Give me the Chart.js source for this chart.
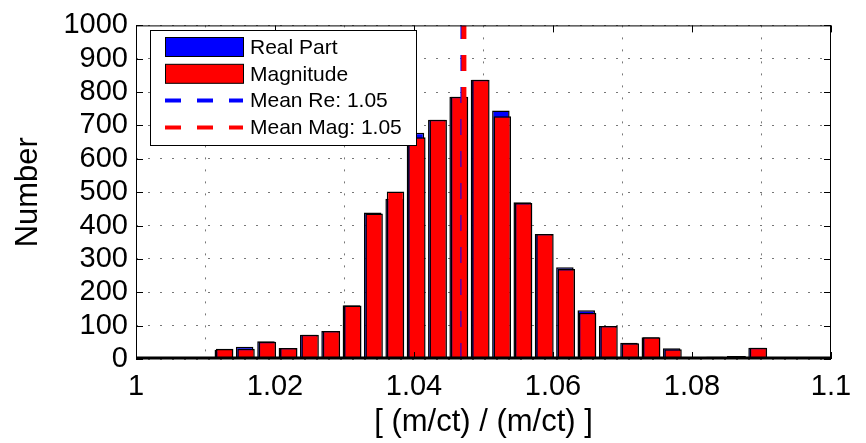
<!DOCTYPE html>
<html>
<head>
<meta charset="utf-8">
<script src="https://cdn.jsdelivr.net/npm/chart.js@4.4.1/dist/chart.umd.min.js"></script>
<style>
  html, body { margin: 0; padding: 0; background: #fff; }
  #wrap { width: 866px; height: 443px; }
</style>
</head>
<body>
<div id="wrap"><canvas id="chart1"></canvas></div>
<script>
// histogram bin centres and counts
const magBins = [1.01276, 1.01583, 1.01890, 1.02198, 1.02505, 1.02812, 1.03119, 1.03426, 1.03734,
                 1.04041, 1.04348, 1.04655, 1.04962, 1.05270, 1.05577, 1.05884, 1.06191, 1.06498,
                 1.06806, 1.07113, 1.07420, 1.07727, 1.08034, 1.08342, 1.08649, 1.08956];
const magCounts = [31, 31, 52, 33, 73, 84, 160, 436, 502, 665, 717, 786, 837, 728, 468, 375, 270,
                   139, 99, 47, 65, 29, 5, 7, 9, 34];

const reBins = [1.01256, 1.01563, 1.01870, 1.02178, 1.02485, 1.02792, 1.03099, 1.03406, 1.03714,
                1.04021, 1.04328, 1.04635, 1.04942, 1.05250, 1.05557, 1.05864, 1.06171, 1.06478,
                1.06786, 1.07093, 1.07400, 1.07707, 1.08014, 1.08322, 1.08629, 1.08936];
const reCounts = [28, 37, 53, 33, 73, 84, 161, 439, 480, 678, 717, 786, 837, 745, 470, 375, 275,
                  146, 99, 49, 65, 32, 5, 7, 9, 34];

const meanRe = 1.04704;
const meanMag = 1.04718;
const meanSpan = [0, 1000];

const xTicks = [1, 1.02, 1.04, 1.06, 1.08, 1.1];
const yTicks = [0, 100, 200, 300, 400, 500, 600, 700, 800, 900, 1000];

const labelFont = "'Liberation Sans', Arial, sans-serif";

// MATLAB style box, inward ticks and legend
const matlabFrame = {
    id: 'matlabFrame',
    afterDatasetsDraw(chart) {
        const { ctx, chartArea: a, scales } = chart;
        ctx.save();
        ctx.strokeStyle = '#000';
        ctx.lineWidth = 1;
        ctx.strokeRect(a.left + 0.5, a.top + 0.5, a.right - a.left - 1, a.bottom - a.top - 1);

        ctx.beginPath();
        scales.x.ticks.forEach(t => {
            const px = Math.round(scales.x.getPixelForValue(t.value)) + 0.5;
            ctx.moveTo(px, a.bottom); ctx.lineTo(px, a.bottom - 7);
            ctx.moveTo(px, a.top); ctx.lineTo(px, a.top + 7);
        });
        scales.y.ticks.forEach(t => {
            const py = Math.round(scales.y.getPixelForValue(t.value)) + 0.5;
            ctx.moveTo(a.left, py); ctx.lineTo(a.left + 7, py);
            ctx.moveTo(a.right, py); ctx.lineTo(a.right - 7, py);
        });
        ctx.stroke();

        // heavy baseline (empty bins)
        ctx.lineWidth = 3;
        ctx.beginPath();
        ctx.moveTo(a.left, a.bottom - 1);
        ctx.lineTo(a.right, a.bottom - 1);
        ctx.stroke();
        ctx.restore();
    },
    afterDraw(chart) {
        const ctx = chart.ctx;
        const box = { x: 150.5, y: 30.5, w: 266, h: 115 };
        ctx.save();
        ctx.fillStyle = '#fff';
        ctx.fillRect(box.x, box.y, box.w, box.h);
        ctx.strokeStyle = '#000';
        ctx.lineWidth = 1;
        ctx.strokeRect(box.x, box.y, box.w, box.h);

        ctx.font = '21px ' + labelFont;
        ctx.textBaseline = 'middle';
        chart.data.datasets.forEach((ds, i) => {
            const cy = 47 + i * 26.8;
            if (ds.type === 'line') {
                ctx.setLineDash(ds.borderDash);
                ctx.strokeStyle = ds.borderColor;
                ctx.lineWidth = 4;
                ctx.beginPath();
                ctx.moveTo(165, cy);
                ctx.lineTo(243, cy);
                ctx.stroke();
                ctx.setLineDash([]);
            } else {
                ctx.fillStyle = ds.backgroundColor;
                ctx.fillRect(165, cy - 9.5, 78, 19);
                ctx.strokeStyle = '#000';
                ctx.lineWidth = 1;
                ctx.strokeRect(165.5, cy - 9.5, 78, 19);
            }
            ctx.fillStyle = '#000';
            ctx.fillText(ds.label, 250, cy + 1);
        });
        ctx.restore();
    }
};

new Chart(document.getElementById('chart1'), {
    type: 'bar',
    data: {
        datasets: [
            {
                label: 'Real Part',
                xAxisID: 'xRe',
                data: reBins.map((x, i) => ({ x: x, y: reCounts[i] })),
                backgroundColor: '#0000ff',
                borderColor: '#000',
                borderWidth: 1.5,
                borderSkipped: false,
                grouped: false,
                barPercentage: 0.82,
                categoryPercentage: 1,
                order: 4
            },
            {
                label: 'Magnitude',
                xAxisID: 'x',
                data: magBins.map((x, i) => ({ x: x, y: magCounts[i] })),
                backgroundColor: '#ff0000',
                borderColor: '#000',
                borderWidth: 1.5,
                borderSkipped: false,
                grouped: false,
                barPercentage: 0.82,
                categoryPercentage: 1,
                order: 3
            },
            {
                type: 'line',
                label: 'Mean Re: 1.05',
                xAxisID: 'x',
                data: meanSpan.map(y => ({ x: meanRe, y: y })),
                borderColor: '#0000ff',
                borderWidth: 5,
                borderDash: [16, 16],
                pointRadius: 0,
                fill: false,
                order: 2
            },
            {
                type: 'line',
                label: 'Mean Mag: 1.05',
                xAxisID: 'x',
                data: meanSpan.map(y => ({ x: meanMag, y: y })),
                borderColor: '#ff0000',
                borderWidth: 5,
                borderDash: [16, 16],
                pointRadius: 0,
                fill: false,
                order: 1
            }
        ]
    },
    options: {
        responsive: true,
        maintainAspectRatio: false,
        animation: false,
        layout: { padding: { top: 17, right: 35, left: 0, bottom: 0 } },
        plugins: {
            legend: { display: false },
            tooltip: { enabled: false }
        },
        scales: {
            x: {
                type: 'linear',
                offset: false,
                min: 1,
                max: 1.1,
                afterBuildTicks: scale => { scale.ticks = xTicks.map(v => ({ value: v })); },
                afterFit: scale => { scale.height = 84; },
                ticks: {
                    color: '#000',
                    font: { family: labelFont, size: 29 },
                    padding: 11,
                    maxRotation: 0,
                    autoSkip: false,
                    callback: v => String(+v.toFixed(2))
                },
                grid: { color: '#777', lineWidth: 1, drawTicks: false },
                border: { display: false, dash: [2, 10] },
                title: {
                    display: true,
                    text: '[ (m/ct) / (m/ct) ]',
                    color: '#000',
                    font: { family: labelFont, size: 31 },
                    padding: { top: 0, bottom: 2 }
                }
            },
            xRe: {
                type: 'linear',
                display: false,
                offset: false,
                min: 1,
                max: 1.1
            },
            y: {
                min: 0,
                max: 1000,
                afterBuildTicks: scale => { scale.ticks = yTicks.map(v => ({ value: v })); },
                afterFit: scale => { scale.width = 136; },
                ticks: {
                    color: '#000',
                    font: { family: labelFont, size: 29 },
                    padding: 8,
                    autoSkip: false,
                    callback: v => String(v)
                },
                grid: { color: '#777', lineWidth: 1, drawTicks: false },
                border: { display: false, dash: [2, 10] },
                title: {
                    display: true,
                    text: 'Number',
                    color: '#000',
                    font: { family: labelFont, size: 31 },
                    padding: { top: 10, bottom: 0 }
                }
            }
        }
    },
    plugins: [matlabFrame]
});
</script>
</body>
</html>
